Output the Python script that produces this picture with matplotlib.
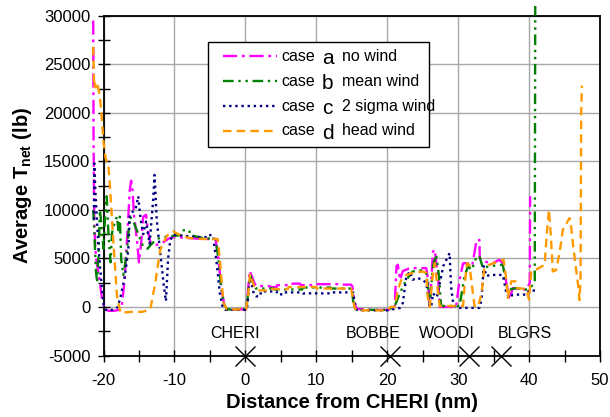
import matplotlib
matplotlib.use("Agg")
import matplotlib.pyplot as plt
from matplotlib.patches import Rectangle
from matplotlib.lines import Line2D
from matplotlib.ticker import MultipleLocator

plt.rcParams['font.family'] = ['Liberation Sans', 'DejaVu Sans']
plt.rcParams['mathtext.fontset'] = 'custom'
plt.rcParams['mathtext.rm'] = 'Liberation Sans'
plt.rcParams['mathtext.bf'] = 'Liberation Sans:bold'
plt.rcParams['axes.unicode_minus'] = False

# case a - no wind
xa = [-21.45, -21.4, -21.3, -21.15, -21.0, -20.6, -20.2, -19.8, -19.3, -18.5, -17.8, -17.4, -17.0,
      -16.6, -16.3, -16.1, -15.9, -15.7, -15.4, -15.0, -14.7, -14.4, -14.0, -13.7, -13.3, -12.5,
      -11.7, -10.9, -10.2, -8.0, -6.0, -4.2, -3.8, -3.4, -3.0, -2.6, -1.0, 0.1, 0.3, 0.6, 0.9,
      1.3, 1.6, 3.4, 3.5, 4.4, 4.5, 6.2, 6.3, 7.7, 7.8, 9.5, 9.6, 13.3, 13.4, 14.9, 15.1, 15.4,
      15.7, 18.0, 20.0, 20.8, 21.05, 21.3, 21.5, 21.8, 22.2, 23.2, 25.5, 25.75, 26.0, 26.45, 26.7,
      27.2, 27.4, 29.7, 30.2, 30.7, 31.4, 32.0, 32.6, 33.0, 33.05, 33.5, 34.9, 35.8, 36.3, 36.8,
      37.2, 37.7, 38.7, 39.6, 40.1, 40.15]
ya = [29500, 17000, 9000, 6000, 4800, 3000, 800, -200, -400, -400, -300, 200, 3000,
      8000, 12000, 13000, 12000, 9400, 7700, 4600, 6500, 9300, 9500, 7700, 6400, 6400,
      6600, 7000, 7200, 7100, 7000, 7000, 5000, 2000, 300, -250, -250, -250, 1000, 3700, 3200,
      2400, 2150, 2150, 2050, 2050, 2250, 2250, 2400, 2400, 2250, 2250, 2350, 2350, 2300, 2300, 2100, 400,
      -200, -300, -300, -200, 0, 4200, 4350, 2800, 3700, 4000, 4000, 2800, 0, 5700, 5900,
      2800, 0, 0, 2800, 4500, 4500, 4300, 6900, 6900, 5000, 4700, 4500, 4860, 4500, 2470,
      750, 1950, 1850, 1780, 2470, 11400]

# case b - mean wind
xb = [-21.45, -21.3, -21.1, -20.9, -20.7, -20.5, -20.3, -20.0, -19.8, -19.55, -19.3, -19.0, -18.8,
      -18.5, -18.1, -17.9, -17.7, -17.5, -17.2, -16.7, -16.3, -15.9, -15.3, -14.4, -13.8, -13.2,
      -12.5, -11.6, -10.5, -9.0, -8.9, -7.9, -7.8, -6.0, -4.2, -3.8, -3.4, -3.0, -2.6, 0.1, 0.3,
      0.65, 1.0, 1.5, 4.0, 4.1, 8.0, 8.1, 12.0, 12.1, 15.0, 15.2, 15.5, 15.8, 20.0, 21.0, 21.8,
      22.7, 23.6, 25.0, 25.5, 26.0, 26.45, 26.9, 27.3, 27.6, 30.2, 30.9, 31.4, 31.9, 32.6, 33.0,
      33.5, 34.4, 36.3, 36.8, 37.2, 38.2, 39.6, 40.1, 40.8, 40.87]
yb = [10000, 8000, 4000, 2500, 5500, 10000, 8500, 6000, 9000, 11400, 7500, 4600, 7600,
      8500, 9300, 7900, 9300, 4900, 3300, 5600, 9300, 9000, 7900, 6200, 6000, 6500,
      7000, 7200, 7300, 7400, 7900, 7900, 7400, 7100, 7000, 5000, 2000, 300, -250, -250, 800,
      3300, 2600, 1900, 1900, 1800, 1800, 2000, 2000, 1900, 1900, 600, -200, -300, -300, 0, 1440,
      2800, 3660, 3800, 3500, 400, 4200, 5400, 3150, 100, 100, 3150, 4200, 3800, 5200, 5200,
      4000, 4200, 4350, 2300, 1780, 1950, 1780, 1950, 2470, 31000]

# case c - 2 sigma wind
xc = [-21.35, -21.3, -21.15, -21.0, -20.7, -20.3, -20.0, -19.7, -18.5, -18.0, -17.6, -17.0, -16.5,
      -16.3, -15.9, -15.5, -15.1, -14.8, -14.4, -14.0, -13.5, -13.0, -12.8, -12.5, -12.0, -11.5,
      -11.2, -10.9, -10.6, -10.2, -7.0, -5.3, -5.2, -4.6, -4.1, -3.6, -3.2, -2.8, 0.2, 0.4, 0.6,
      0.9, 1.2, 1.5, 2.1, 2.2, 4.4, 4.5, 5.4, 5.5, 8.0, 8.1, 12.0, 12.1, 15.2, 15.4, 15.7, 16.0,
      20.0, 21.8, 22.2, 22.7, 23.2, 23.6, 24.2, 25.0, 25.5, 26.0, 26.2, 26.45, 27.0, 27.9, 28.8,
      29.0, 29.3, 29.7, 33.0, 33.3, 33.6, 34.0, 34.4, 36.3, 36.8, 37.2, 37.7, 39.6, 40.1, 41.2]
yc = [9000, 14800, 12000, 10000, 6000, 2500, 300, -300, -300, 0, 1000, 3100, 5900,
      9500, 9800, 10000, 11400, 9200, 7500, 8800, 6500, 11000, 13600, 9000, 5600, 2200,
      600, 4900, 6800, 7450, 7200, 7200, 7400, 7400, 4900, 1400, 0, -300, -300, 1000, 3000,
      2400, 1300, 1100, 1100, 1600, 1600, 1300, 1300, 1500, 1500, 1400, 1400, 1500, 1500, 500, -300, -350,
      -350, -100, 400, 3150, 3660, 2800, 3000, 2800, 2470, 0, 0, 1400, 1000, 4200, 5550,
      2100, 400, -100, -100, 750, 4200, 3150, 3300, 3300, 1440, 920, 1270, 1270, 1780, 1600]

# case d - head wind
xd = [-21.45, -21.35, -21.3, -21.2, -21.0, -20.8, -20.5, -20.3, -20.0, -19.7, -19.3, -19.1, -18.6,
      -18.1, -17.6, -16.0, -14.5, -13.4, -12.7, -12.0, -11.1, -10.2, -9.5, -8.0, -6.0, -3.9, -3.6,
      -3.1, -2.6, 0.1, 0.4, 0.65, 1.0, 1.3, 2.0, 3.5, 3.6, 6.0, 6.1, 10.0, 10.1, 14.9, 15.2, 15.4,
      15.7, 19.9, 20.5, 21.05, 21.5, 22.0, 22.7, 23.6, 25.0, 25.5, 25.7, 26.0, 26.45, 26.7, 27.0,
      27.4, 30.7, 30.9, 31.25, 31.6, 31.85, 32.3, 32.8, 33.3, 33.7, 34.4, 35.8, 36.4, 36.8, 37.0,
      37.5, 38.1, 38.3, 39.6, 40.0, 40.3, 40.9, 42.2, 42.5, 42.8, 43.1, 43.35, 43.8, 44.3, 44.76,
      45.7, 45.9, 46.2, 46.64, 47.0, 47.1, 47.25, 47.35, 47.45]
yd = [26800, 23500, 22600, 23000, 22400, 22800, 21600, 20000, 17000, 15300, 14500, 12500, 6600,
      1100, -600, -500, -500, -250, 2500, 5900, 7300, 7800, 7500, 7100, 7000, 7000, 4900,
      450, -250, -250, 1200, 3400, 2600, 2000, 1700, 1700, 1850, 1850, 2050, 2050, 1900, 1900, 800, -50,
      -350, -350, 0, 0, 1780, 2800, 3300, 3500, 3650, 3500, 1100, 0, 3500, 4500, 2500,
      100, 100, 2100, 4500, 4300, 2800, 100, 0, 1440, 4000, 4350, 4700, 4860, 2800, 920,
      2640, 2640, 1950, 1850, 750, 3660, 3800, 4350, 7600, 10000, 7000, 3660, 3800, 5550, 7950,
      9150, 8500, 6400, 3800, 1780, 700, 2700, 20000, 22800]

case_letters = ['a', 'b', 'c', 'd']
case_desc = ['no wind', 'mean wind', '2 sigma wind', 'head wind']

waypoints = ['CHERI', 'BOBBE', 'WOODI', 'BLGRS']
waypoint_x = [0, 20.45, 31.5, 36.1]
label_x = [-1.4, 18.0, 28.4, 39.4]

colors = ['#FF00FF', '#008000', '#000080', '#FF9900']
styles = [(0, (6, 2, 1.2, 2)), (0, (4.5, 2, 1, 2, 1, 2)), (0, (1, 1.6)), (0, (3.6, 2.2))]

fig = plt.figure(figsize=(6.1, 4.17), dpi=100)
ax = fig.add_axes([103.5 / 610, 1 - 355.5 / 417, 496.5 / 610, 339.8 / 417])

series = [(xa, ya), (xb, yb), (xc, yc), (xd, yd)]
for (xs, ys), c, ls in zip(series, colors, styles):
    ax.plot(xs, ys, color=c, linestyle=ls, lw=1.7, clip_on=False, zorder=3)

ax.set_xlim(-20, 50)
ax.set_ylim(-5000, 30000)
ax.xaxis.set_major_locator(MultipleLocator(10))
ax.xaxis.set_minor_locator(MultipleLocator(5))
ax.yaxis.set_major_locator(MultipleLocator(5000))
ax.yaxis.set_minor_locator(MultipleLocator(2500))
ax.grid(True, which='major', color='#a8a8a8', lw=1)
ax.tick_params(which='both', direction='inout', length=9, width=1, labelsize=12)
ax.tick_params(axis='x', pad=8)
ax.tick_params(axis='y', pad=5)
for s in ax.spines.values():
    s.set_linewidth(1.3)
    s.set_color('black')

ax.set_xlabel('Distance from CHERI (nm)', fontsize=14.5, fontweight='bold', labelpad=4)
ax.set_ylabel(r'Average T$_{\mathbf{net}}$ (lb)', fontsize=14.5, fontweight='bold', labelpad=7)

# waypoints
ax.plot(waypoint_x, [-5000] * len(waypoint_x), linestyle='none', marker='x', ms=14,
        mew=1, color='black', clip_on=False, zorder=6)
for name, lx in zip(waypoints, label_x):
    ax.text(lx, -2750, name, ha='center', va='center', fontsize=11.5)

# legend box
ax.add_patch(Rectangle((0.2105, 0.6136), 0.4451, 0.309, transform=ax.transAxes,
                       facecolor='white', edgecolor='black', lw=1, zorder=7))
rows = [0.8814, 0.8078, 0.7342, 0.6607]
for r, c, ls, letter, desc in zip(rows, colors, styles, case_letters, case_desc):
    ax.add_line(Line2D([0.2407, 0.3495], [r, r], transform=ax.transAxes, color=c,
                       linestyle=ls, lw=1.7, zorder=8))
    ax.text(0.3575, r, 'case', transform=ax.transAxes, ha='left', va='center',
            fontsize=11.5, zorder=8)
    ax.text(0.4512, r - 0.008, letter, transform=ax.transAxes, ha='center', va='center',
            fontsize=15, zorder=8)
    ax.text(0.4804, r, desc, transform=ax.transAxes, ha='left', va='center',
            fontsize=11.5, zorder=8)

fig.savefig('out.png', dpi=100)
